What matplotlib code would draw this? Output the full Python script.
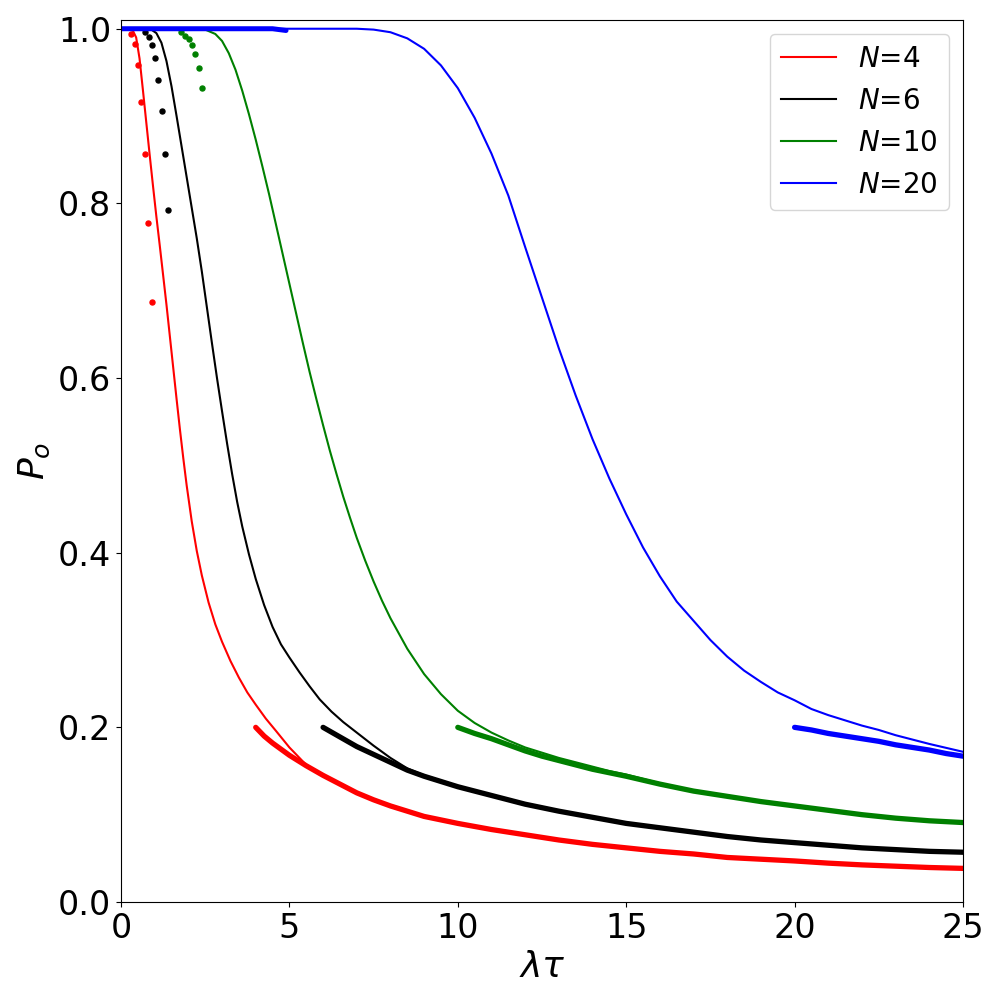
import matplotlib

matplotlib.use("Agg")
import matplotlib.pyplot as plt


# solid curves
red_line_x = [0.0, 0.2, 0.35, 0.45, 0.55, 0.65, 0.75, 0.85, 0.95, 1.05, 1.15, 1.25, 1.35, 1.45, 1.55, 1.65,
              1.75, 1.85, 1.95, 2.1, 2.25, 2.4, 2.6, 2.8, 3.0, 3.25, 3.5, 3.75, 4.0, 4.3, 4.6, 5.0, 5.5,
              6.0, 6.5, 7.0, 7.5, 8.0, 9.0, 10.0, 11.0, 12.0, 13.0, 14.0, 15.0, 16.0, 17.0, 18.0, 19.0,
              20.0, 21.0, 22.0, 23.0, 24.0, 25.0]
red_line_y = [1.0, 1.0, 0.998, 0.990, 0.966, 0.930, 0.893, 0.856, 0.820, 0.785, 0.752, 0.718, 0.684, 0.648,
              0.612, 0.576, 0.541, 0.508, 0.477, 0.436, 0.402, 0.374, 0.343, 0.318, 0.298, 0.276, 0.257,
              0.240, 0.226, 0.210, 0.196, 0.177, 0.157, 0.145, 0.135, 0.125, 0.117, 0.110, 0.098, 0.090,
              0.083, 0.077, 0.071, 0.066, 0.062, 0.058, 0.055, 0.051, 0.049, 0.047, 0.0445, 0.0425, 0.041,
              0.0395, 0.0385]

black_line_x = [0.0, 0.7, 0.9, 1.05, 1.2, 1.35, 1.5, 1.65, 1.8, 1.95, 2.1, 2.25, 2.4, 2.55, 2.7, 2.85, 3.0,
                3.15, 3.3, 3.45, 3.6, 3.8, 4.0, 4.25, 4.5, 4.75, 5.0, 5.3, 5.6, 5.9, 6.25, 6.6, 7.0, 7.5,
                8.0, 8.5, 9.0, 10.0, 11.0, 12.0, 13.0, 14.0, 15.0, 16.0, 17.0, 18.0, 19.0, 20.0, 21.0,
                22.0, 23.0, 24.0, 25.0]
black_line_y = [1.0, 1.0, 0.999, 0.995, 0.984, 0.963, 0.934, 0.900, 0.865, 0.830, 0.795, 0.760, 0.722,
                0.681, 0.640, 0.600, 0.562, 0.525, 0.490, 0.458, 0.430, 0.398, 0.370, 0.340, 0.315, 0.295,
                0.280, 0.263, 0.247, 0.232, 0.218, 0.206, 0.194, 0.179, 0.165, 0.153, 0.145, 0.133, 0.122,
                0.112, 0.104, 0.097, 0.090, 0.085, 0.080, 0.075, 0.071, 0.068, 0.065, 0.062, 0.060, 0.058,
                0.057]

green_line_x = [0.0, 2.0, 2.5, 2.8, 3.0, 3.2, 3.4, 3.6, 3.8, 4.0, 4.2, 4.4, 4.6, 4.8, 5.0, 5.2, 5.4, 5.6,
                5.8, 6.0, 6.2, 6.4, 6.6, 6.8, 7.0, 7.25, 7.5, 7.75, 8.0, 8.5, 9.0, 9.5, 10.0, 10.5, 11.0,
                11.5, 12.0, 12.5, 13.0, 13.5, 14.0, 14.5, 15.0, 16.0, 17.0, 18.0, 19.0, 20.0, 21.0, 22.0,
                23.0, 24.0, 25.0]
green_line_y = [1.0, 1.0, 0.999, 0.994, 0.986, 0.972, 0.953, 0.929, 0.902, 0.873, 0.842, 0.810, 0.776,
                0.742, 0.708, 0.674, 0.640, 0.607, 0.576, 0.546, 0.517, 0.490, 0.464, 0.440, 0.417, 0.391,
                0.367, 0.345, 0.325, 0.290, 0.261, 0.238, 0.219, 0.205, 0.194, 0.185, 0.177, 0.171, 0.165,
                0.160, 0.155, 0.150, 0.146, 0.136, 0.127, 0.121, 0.115, 0.110, 0.105, 0.100, 0.096, 0.093,
                0.091]

blue_line_x = [0.0, 7.0, 7.5, 8.0, 8.5, 9.0, 9.5, 10.0, 10.5, 11.0, 11.5, 12.0, 12.5, 13.0, 13.5, 14.0,
               14.5, 15.0, 15.5, 16.0, 16.5, 17.0, 17.5, 18.0, 18.5, 19.0, 19.5, 20.0, 20.5, 21.0, 21.5,
               22.0, 22.5, 23.0, 23.5, 24.0, 24.5, 25.0]
blue_line_y = [1.0, 1.0, 0.999, 0.996, 0.989, 0.977, 0.958, 0.932, 0.898, 0.857, 0.809, 0.750, 0.692,
               0.634, 0.580, 0.530, 0.485, 0.444, 0.406, 0.373, 0.344, 0.322, 0.300, 0.281, 0.265, 0.252,
               0.240, 0.231, 0.221, 0.214, 0.208, 0.202, 0.197, 0.191, 0.186, 0.181, 0.1765, 0.172]

# dotted start points
red_head_x = [0.3, 0.42, 0.5, 0.59, 0.71, 0.8, 0.92]
red_head_y = [0.994, 0.982, 0.958, 0.916, 0.856, 0.778, 0.687]
black_head_x = [0.7, 0.82, 0.93, 1.02, 1.11, 1.23, 1.32, 1.4]
black_head_y = [0.996, 0.990, 0.981, 0.966, 0.941, 0.906, 0.856, 0.792]
green_head_x = [1.79, 1.91, 2.03, 2.12, 2.21, 2.32, 2.41]
green_head_y = [0.996, 0.992, 0.988, 0.981, 0.971, 0.955, 0.932]
blue_head_x = [0.0, 0.5, 1.0, 1.5, 2.0, 2.5, 3.0, 3.5, 4.0, 4.5, 4.9]
blue_head_y = [1.0, 1.0, 1.0, 1.0, 1.0, 1.0, 1.0, 1.0, 1.0, 1.0, 0.998]

# dotted tails
red_tail_x = [4.0, 4.25, 4.5, 4.75, 5.0, 5.5, 6.0, 6.5, 7.0, 7.5, 8.0, 9.0, 10.0, 11.0, 12.0, 13.0, 14.0,
              15.0, 16.0, 17.0, 18.0, 19.0, 20.0, 21.0, 22.0, 23.0, 24.0, 25.0]
red_tail_y = [0.200, 0.190, 0.182, 0.175, 0.168, 0.156, 0.145, 0.135, 0.125, 0.117, 0.110, 0.098, 0.090,
              0.083, 0.077, 0.071, 0.066, 0.062, 0.058, 0.055, 0.051, 0.049, 0.047, 0.0445, 0.0425, 0.041,
              0.0395, 0.0385]
black_tail_x = [6.0, 6.5, 7.0, 7.5, 8.0, 8.5, 9.0, 10.0, 11.0, 12.0, 13.0, 14.0, 15.0, 16.0, 17.0, 18.0,
                19.0, 20.0, 21.0, 22.0, 23.0, 24.0, 25.0]
black_tail_y = [0.200, 0.189, 0.178, 0.169, 0.160, 0.151, 0.144, 0.132, 0.122, 0.112, 0.104, 0.097, 0.090,
                0.085, 0.080, 0.075, 0.071, 0.068, 0.065, 0.062, 0.060, 0.058, 0.057]
green_tail_x = [10.0, 10.5, 11.0, 11.5, 12.0, 12.5, 13.0, 13.5, 14.0, 14.5, 15.0, 16.0, 17.0, 18.0, 19.0,
                20.0, 21.0, 22.0, 23.0, 24.0, 25.0]
green_tail_y = [0.200, 0.193, 0.187, 0.180, 0.173, 0.167, 0.162, 0.157, 0.152, 0.148, 0.144, 0.135, 0.127,
                0.121, 0.115, 0.110, 0.105, 0.100, 0.096, 0.093, 0.091]
blue_tail_x = [20.0, 20.5, 21.0, 21.5, 22.0, 22.5, 23.0, 23.5, 24.0, 24.5, 25.0]
blue_tail_y = [0.200, 0.197, 0.193, 0.190, 0.187, 0.184, 0.180, 0.177, 0.174, 0.170, 0.167]

labels = ["$N$=4", "$N$=6", "$N$=10", "$N$=20"]
colors = ["red", "black", "green", "blue"]

fig, ax = plt.subplots(figsize=(10, 10), dpi=100)
fig.subplots_adjust(left=0.121, right=0.963, top=0.98, bottom=0.098)

lines = [
    (red_line_x, red_line_y),
    (black_line_x, black_line_y),
    (green_line_x, green_line_y),
    (blue_line_x, blue_line_y),
]
heads = [
    (red_head_x, red_head_y),
    (black_head_x, black_head_y),
    (green_head_x, green_head_y),
    (blue_head_x, blue_head_y),
]
tails = [
    (red_tail_x, red_tail_y),
    (black_tail_x, black_tail_y),
    (green_tail_x, green_tail_y),
    (blue_tail_x, blue_tail_y),
]

for (lx, ly), label, color in zip(lines, labels, colors):
    ax.plot(lx, ly, color=color, lw=1.5, label=label)

for (hx, hy), color in zip(heads, colors):
    if color == "blue":
        # dense run of points: drawn as a band
        ax.plot(hx, hy, color=color, lw=3.6, solid_capstyle="round")
    else:
        ax.plot(hx, hy, "o", color=color, ms=3.6)

for (tx, ty), color in zip(tails, colors):
    ax.plot(tx, ty, color=color, lw=3.8, solid_capstyle="round", solid_joinstyle="round")

ax.set_xlim(0, 25)
ax.set_ylim(0, 1.01)
ax.set_xticks([0, 5, 10, 15, 20, 25])
ax.set_yticks([0.0, 0.2, 0.4, 0.6, 0.8, 1.0])
ax.tick_params(labelsize=24)
ax.set_xlabel(r"$\lambda\tau$", fontsize=26)
ax.set_ylabel(r"$P_o$", fontsize=26)
ax.legend(loc="upper right", fontsize=20)

fig.savefig("out.png")
